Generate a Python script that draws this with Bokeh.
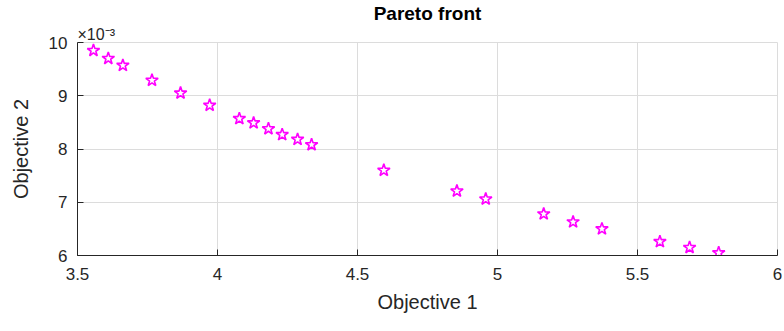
from bokeh.plotting import figure
from bokeh.models import Range1d, FixedTicker, CustomJSTickFormatter, Title
from bokeh.embed import file_html
from bokeh.resources import INLINE

# Data (objective 2 in real units)
obj1 = [3.557, 3.610, 3.662, 3.766, 3.868, 3.972, 4.078, 4.129, 4.182, 4.231,
        4.286, 4.336, 4.594, 4.855, 4.958, 5.165, 5.270, 5.373, 5.580, 5.686, 5.790]
obj2 = [9.85e-3, 9.70e-3, 9.57e-3, 9.29e-3, 9.05e-3, 8.82e-3, 8.57e-3, 8.49e-3,
        8.38e-3, 8.27e-3, 8.18e-3, 8.08e-3, 7.60e-3, 7.21e-3, 7.06e-3, 6.78e-3,
        6.63e-3, 6.50e-3, 6.26e-3, 6.15e-3, 6.05e-3]
x_ticks = [3.5, 4, 4.5, 5, 5.5, 6]
y_ticks = [0.006, 0.007, 0.008, 0.009, 0.010]

FONT = "Liberation Sans"

p = figure(width=784, height=323, output_backend="svg", toolbar_location=None,
           x_range=Range1d(3.5, 6), y_range=Range1d(0.006, 0.010), title=None,
           min_border_left=77, min_border_right=7, min_border_top=40, min_border_bottom=68)

# exponent annotation (closest to the frame), then the main title above it
p.add_layout(Title(text="\u00d710\u207b\u00b3", align="left", text_font=FONT,
                   text_font_size="16px", text_font_style="normal",
                   text_color="#262626", standoff=0, offset=0), "above")
p.add_layout(Title(text="Pareto front", align="center", text_font=FONT,
                   text_font_size="19px", text_font_style="bold",
                   text_color="#000000", standoff=0), "above")

p.outline_line_color = "#dcdcdc"
p.background_fill_color = "white"
p.border_fill_color = "white"

p.xaxis.ticker = FixedTicker(ticks=x_ticks)
p.yaxis.ticker = FixedTicker(ticks=y_ticks)
p.xaxis.formatter = CustomJSTickFormatter(code="return String(tick);")
p.yaxis.formatter = CustomJSTickFormatter(code="return (tick*1000).toFixed(0);")

for ax in (p.xaxis, p.yaxis):
    ax.axis_line_color = "#262626"
    ax.major_tick_line_color = "#262626"
    ax.major_tick_in = 6
    ax.major_tick_out = 0
    ax.minor_tick_line_color = None
    ax.major_label_text_font = FONT
    ax.major_label_text_font_size = "17px"
    ax.major_label_text_color = "#262626"
    ax.axis_label_text_font = FONT
    ax.axis_label_text_font_size = "20px"
    ax.axis_label_text_font_style = "normal"
    ax.axis_label_text_color = "#262626"

p.xaxis.axis_label = "Objective 1"
p.yaxis.axis_label = "Objective 2"
p.xaxis.major_label_standoff = 12
p.yaxis.major_label_standoff = 10
p.xaxis.axis_label_standoff = 8
p.yaxis.axis_label_standoff = 14

p.grid.grid_line_color = "#dcdcdc"
p.grid.grid_line_width = 1

p.scatter(obj1, obj2, marker="star", size=13, line_color="#ff00ff",
          line_width=1.6, fill_color=None)

open("out.html", "w").write(file_html(p, INLINE))
